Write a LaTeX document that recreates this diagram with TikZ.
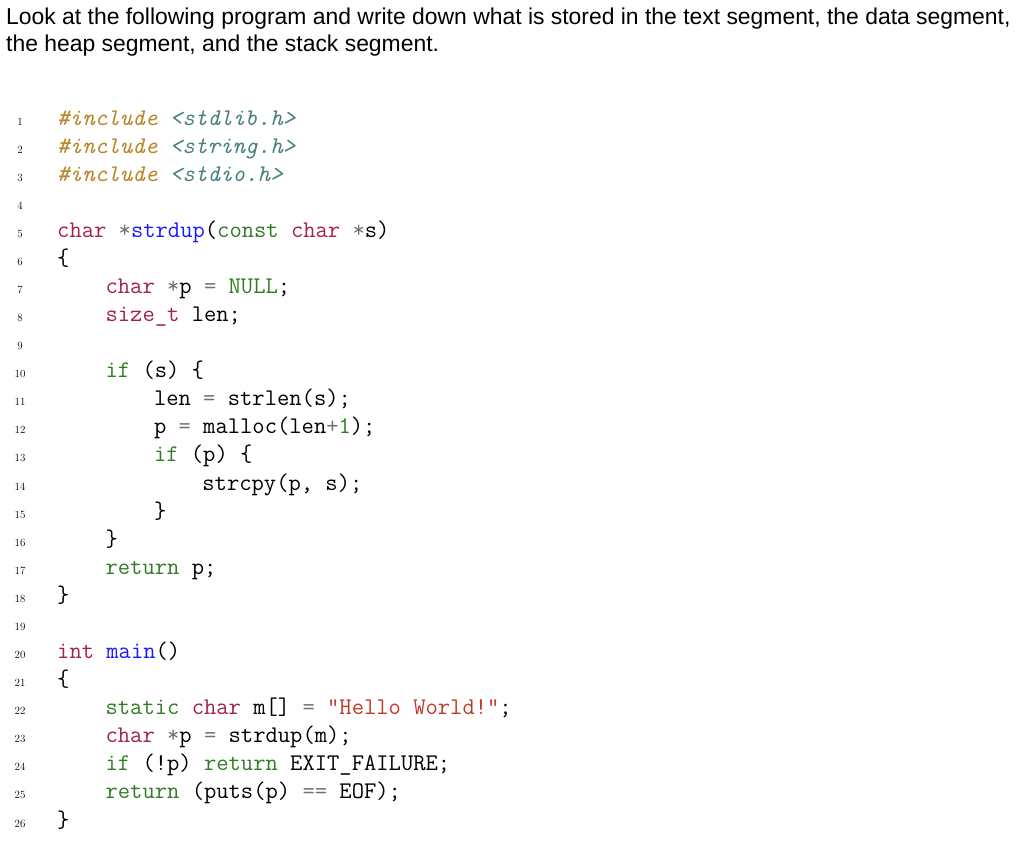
\documentclass[tikz,border=0pt]{standalone}
\usepackage{fontspec}
\newfontfamily\titlefont{Liberation Sans}
\definecolor{kw}{HTML}{A3214F}
\definecolor{gr}{HTML}{2F7D22}
\definecolor{fn}{HTML}{1A1AFF}
\definecolor{inc}{HTML}{B8862B}
\definecolor{hdr}{HTML}{4A8080}
\definecolor{st}{HTML}{C0392B}
\definecolor{op}{HTML}{707070}
\newcommand\Kw[1]{\textcolor{kw}{#1}}
\newcommand\Gr[1]{\textcolor{gr}{#1}}
\newcommand\Fn[1]{\textcolor{fn}{#1}}
\newcommand\Op[1]{\textcolor{op}{#1}}
\newcommand\St[1]{\textcolor{st}{#1}}
\newcommand\US{\char95\relax}
\newcommand\Inc[1]{\textcolor{inc}{\itshape\#include} \textcolor{hdr}{\itshape #1}}
\begin{document}
\begin{tikzpicture}[x=1pt,y=-1pt,
  code/.style={anchor=base west,inner sep=0pt,font=\ttfamily\fontsize{23.9}{28}\selectfont},
  num/.style={anchor=base,inner sep=0pt,font=\fontsize{11}{12}\selectfont},
  title/.style={anchor=base west,inner sep=0pt,font=\titlefont\fontsize{22.9}{26}\selectfont}]
\useasboundingbox (0,0) rectangle (1024,846);
\node[title] (t1) at (6,24) {Look at the following program and write down what is stored in the text segment, the data segment,};
\node[title] (t2) at (6,51) {the heap segment, and the stack segment.};
\foreach \i in {1,...,26} {\node[num] (n\i) at (20,{125+28.08*(\i-1)}) {\i};}
\newcommand\CL[3]{\node[code] (c#1) at ({57+12.1*#2},{125+28.08*(#1-1)}) {#3};}
\CL{1}{0}{\Inc{<stdlib.h>}}
\CL{2}{0}{\Inc{<string.h>}}
\CL{3}{0}{\Inc{<stdio.h>}}
\CL{5}{0}{\Kw{char} \Op{*}\Fn{strdup}(\Gr{const} \Kw{char} \Op{*}s)}
\CL{6}{0}{\{}
\CL{7}{4}{\Kw{char} \Op{*}p \Op{=} \Gr{NULL};}
\CL{8}{4}{\Kw{size\US t} len;}
\CL{10}{4}{\Gr{if} (s) \{}
\CL{11}{8}{len \Op{=} strlen(s);}
\CL{12}{8}{p \Op{=} malloc(len\Op{+}\Gr{1});}
\CL{13}{8}{\Gr{if} (p) \{}
\CL{14}{12}{strcpy(p, s);}
\CL{15}{8}{\}}
\CL{16}{4}{\}}
\CL{17}{4}{\Gr{return} p;}
\CL{18}{0}{\}}
\CL{20}{0}{\Kw{int} \Fn{main}()}
\CL{21}{0}{\{}
\CL{22}{4}{\Gr{static} \Kw{char} m[] \Op{=} \St{"Hello World!"};}
\CL{23}{4}{\Kw{char} \Op{*}p \Op{=} strdup(m);}
\CL{24}{4}{\Gr{if} (!p) \Gr{return} EXIT\US FAILURE;}
\CL{25}{4}{\Gr{return} (puts(p) \Op{==} EOF);}
\CL{26}{0}{\}}
\end{tikzpicture}
\end{document}
